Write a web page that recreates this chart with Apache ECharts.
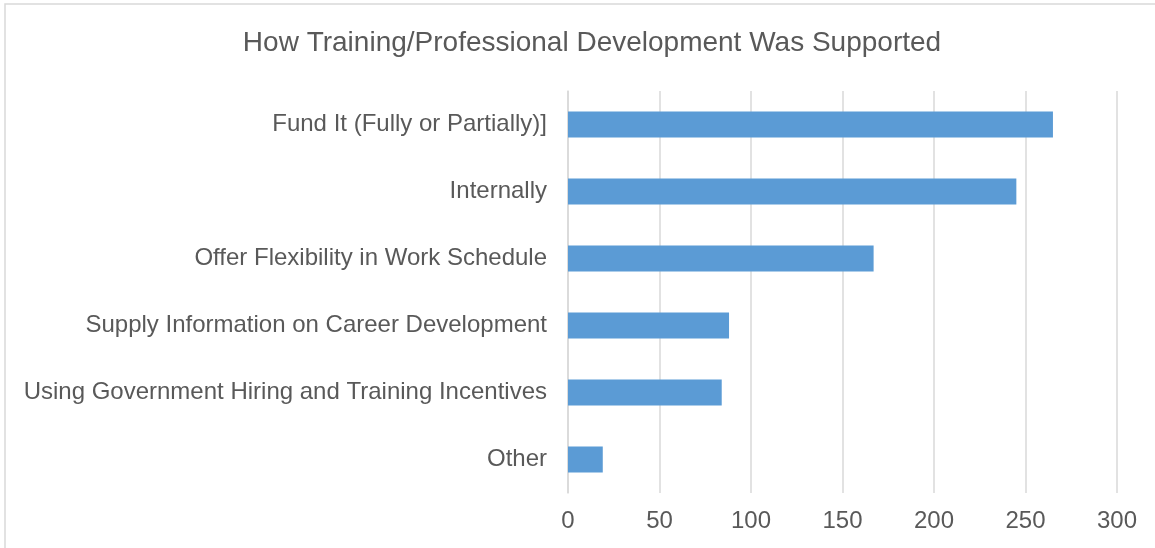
<!DOCTYPE html>
<html>
<head>
<meta charset="utf-8">
<script src="https://cdn.jsdelivr.net/npm/echarts@6/dist/echarts.min.js"></script>
<style>
  html, body { margin: 0; padding: 0; background: #ffffff; }
  #chart { width: 1155px; height: 548px; }
</style>
</head>
<body>
<div id="chart"></div>
<script>
// Ways training / professional development was supported (respondent counts)
const categories = [
  'Fund It (Fully or Partially)]',
  'Internally',
  'Offer Flexibility in Work Schedule',
  'Supply Information on Career Development',
  'Using Government Hiring and Training Incentives',
  'Other'
];
const counts = [265, 245, 167, 88, 84, 19];
const xTicks = [0, 50, 100, 150, 200, 250, 300];

const textColor = '#595959';
const gridColor = '#D9D9D9';
const font = 'Liberation Sans, Arial, sans-serif';

const chart = echarts.init(document.getElementById('chart'));
chart.setOption({
  animation: false,
  backgroundColor: '#ffffff',
  graphic: [{
    type: 'rect',
    shape: { x: 5, y: 4, width: 1170, height: 570 },
    style: { fill: 'none', stroke: '#D9D9D9', lineWidth: 1.5 },
    silent: true
  }],
  title: {
    text: 'How Training/Professional Development Was Supported',
    left: 587,
    textAlign: 'center',
    top: 24,
    textStyle: { color: textColor, fontSize: 28, fontWeight: 'normal', fontFamily: font }
  },
  grid: { left: 568, right: 38, top: 91, bottom: 55, containLabel: false },
  xAxis: {
    type: 'value',
    min: xTicks[0],
    max: xTicks[xTicks.length - 1],
    interval: xTicks[1] - xTicks[0],
    axisLine: { show: false },
    axisTick: { show: false },
    axisLabel: { color: textColor, fontSize: 24, fontFamily: font, margin: 16 },
    splitLine: { show: true, lineStyle: { color: gridColor, width: 1.5 } }
  },
  yAxis: {
    type: 'category',
    data: categories,
    inverse: true,
    axisLine: { show: true, lineStyle: { color: gridColor, width: 1.5 } },
    axisTick: { show: false },
    axisLabel: { color: textColor, fontSize: 24, fontFamily: font, margin: 21 }
  },
  series: [{
    type: 'bar',
    data: counts,
    barWidth: 26,
    itemStyle: { color: '#5B9BD5' },
    silent: true
  }]
});
</script>
</body>
</html>
